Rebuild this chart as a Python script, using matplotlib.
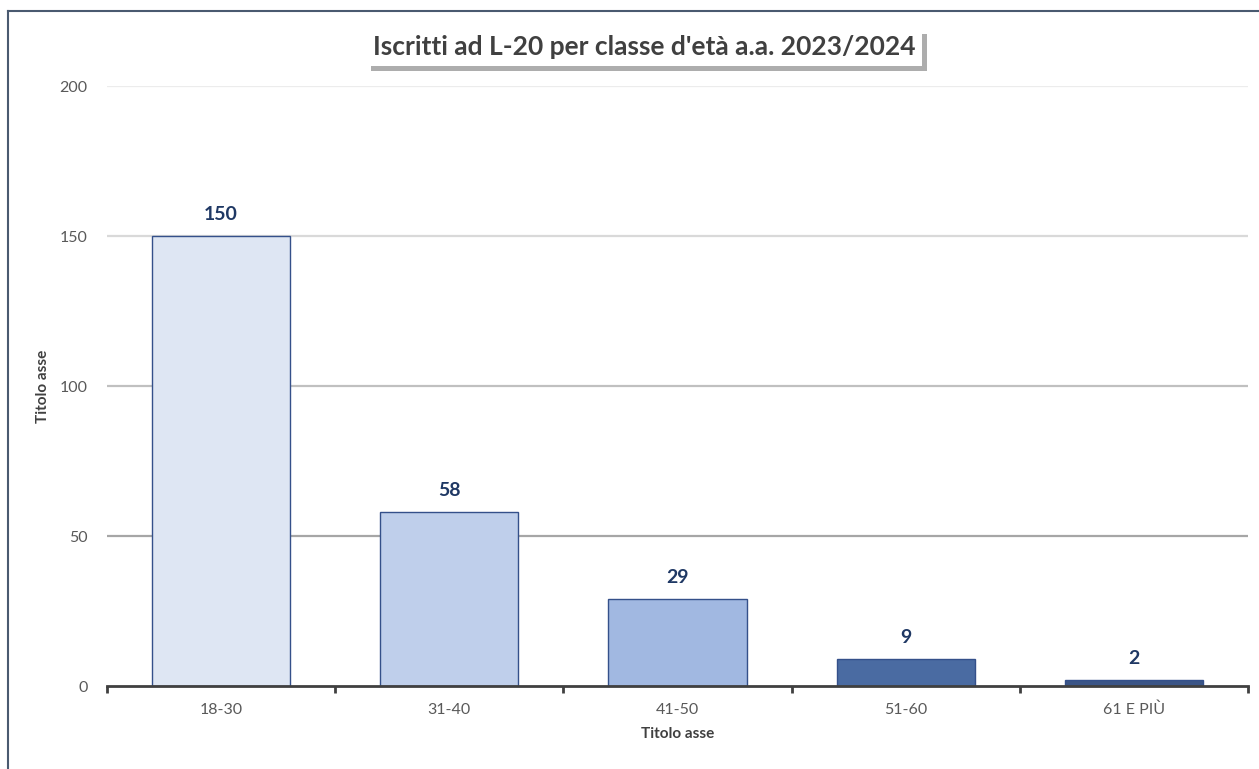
import matplotlib
matplotlib.use('Agg')
import matplotlib.pyplot as plt
import matplotlib.patheffects as pe
from matplotlib.lines import Line2D
import numpy as np

plt.rcParams['font.family'] = ['Lato', 'DejaVu Sans']

# Data
categories = ['18-30', '31-40', '41-50', '51-60', '61 E PIÙ']
values = [150, 58, 29, 9, 2]
bar_colors = ['#dee6f3', '#bfcfeb', '#a1b8e1', '#4a6ba2', '#3b5587']
title = "Iscritti ad L-20 per classe d'età a.a. 2023/2024"

fig = plt.figure(figsize=(12.59, 7.69), dpi=100)
ax = fig.add_axes([107 / 1259, 83 / 769, 1141 / 1259, 600 / 769])

x = np.arange(len(categories))

# Gridlines (slightly different shades as in the original)
grid_vals = [50, 100, 150, 200]
grid_cols = ['#a6a6a6', '#c0c0c0', '#d9d9d9', '#ececec']
for gv, gc in zip(grid_vals, grid_cols):
    ax.axhline(gv, color=gc, lw=1.6, zorder=0)

ax.bar(x, values, width=0.605, color=bar_colors, edgecolor='#34508a',
       linewidth=1.0, zorder=2)

for xi, v in zip(x, values):
    ax.text(xi, v + 7.3, str(v), ha='center', va='center', fontsize=14,
            fontweight='bold', color='#1f3864')

ax.set_xlim(-0.5, len(categories) - 0.5)
ax.set_ylim(0, 200)
ax.set_yticks([0, 50, 100, 150, 200])
ax.set_xticks(x)
ax.set_xticklabels(categories)
ax.set_xticks(np.arange(-0.5, len(categories)), minor=True)
ax.tick_params(axis='x', which='major', length=0, pad=12, labelsize=11.5,
               labelcolor='#595959')
ax.tick_params(axis='x', which='minor', length=5, width=2, color='#404040',
               direction='out')
ax.tick_params(axis='y', length=0, pad=14, labelsize=11.5, labelcolor='#595959')

for s in ['top', 'right', 'left']:
    ax.spines[s].set_visible(False)
ax.spines['bottom'].set_color('#404040')
ax.spines['bottom'].set_linewidth(2)
ax.spines['bottom'].set_zorder(3)

ax.set_xlabel('Titolo asse', fontsize=11, fontweight='bold', color='#404040',
              labelpad=7)
ax.set_ylabel('Titolo asse', fontsize=11, fontweight='bold', color='#404040',
              labelpad=7)

# Title with shadowed box
t = fig.text(0.5115, 1 - 47 / 769, title, ha='center', va='center',
             fontsize=19, fontweight='bold', color='#404040',
             bbox=dict(boxstyle='square,pad=0.25', facecolor='white',
                       edgecolor='none'))
t.get_bbox_patch().set_path_effects([
    pe.SimplePatchShadow(offset=(3.5, -4), shadow_rgbFace='#8a8a8a', alpha=0.7),
    pe.Normal()])

# Chart frame (top and left visible)
fig.add_artist(Line2D([8 / 1259, 1], [1 - 11 / 769, 1 - 11 / 769],
                      transform=fig.transFigure, color='#4a5a70', lw=1.5))
fig.add_artist(Line2D([8 / 1259, 8 / 1259], [0, 1 - 11 / 769],
                      transform=fig.transFigure, color='#4a5a70', lw=1.5))

fig.savefig('out.png', dpi=100)
